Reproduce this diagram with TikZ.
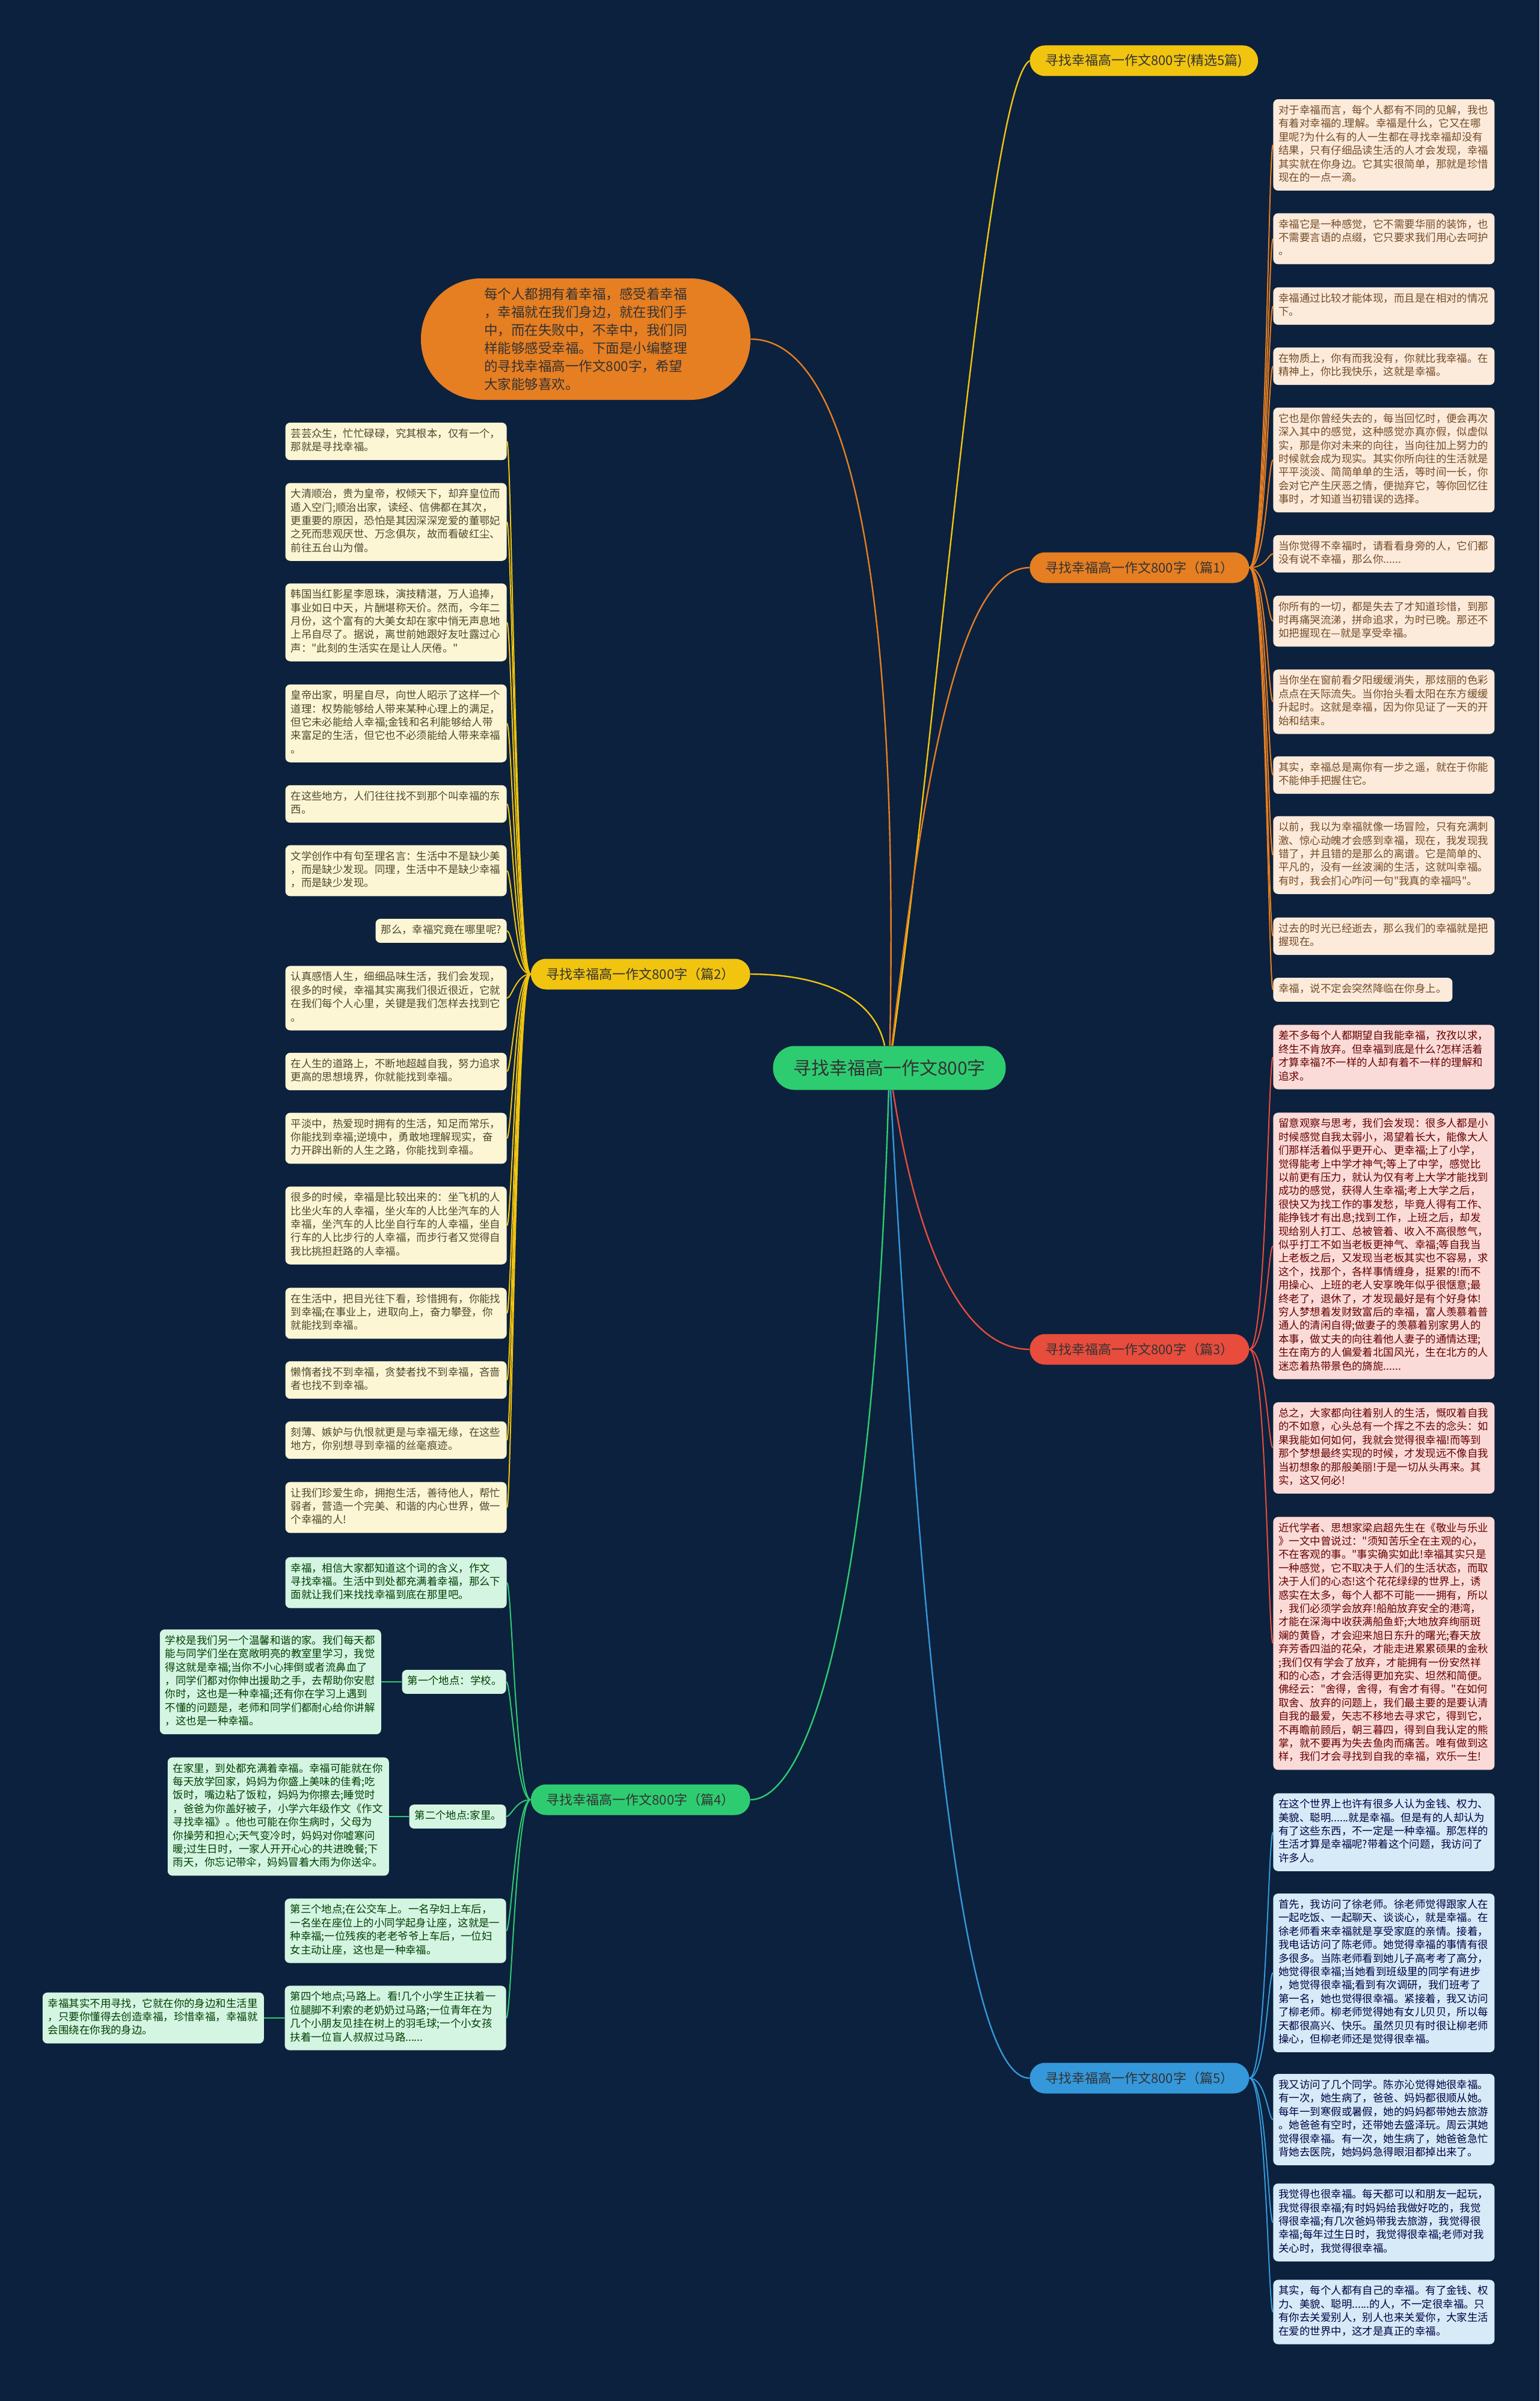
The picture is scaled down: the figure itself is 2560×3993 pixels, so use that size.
\documentclass[tikz,border=0pt]{standalone}
\usepackage{fontspec}
\newfontfamily\cjk{Noto Sans CJK SC}
\usetikzlibrary{positioning, backgrounds}

\definecolor{bgnavy}{HTML}{0C213D}
\definecolor{ink}{HTML}{333333}
\definecolor{gold}{HTML}{F1C40F}
\definecolor{tangerine}{HTML}{E67E22}
\definecolor{coral}{HTML}{E74C3C}
\definecolor{mint}{HTML}{2ECC71}
\definecolor{sky}{HTML}{3498DB}
\definecolor{paleorange}{HTML}{FCEADB}
\definecolor{paleyellow}{HTML}{FDF6D5}
\definecolor{palered}{HTML}{FADBD8}
\definecolor{palegreen}{HTML}{D5F5E3}
\definecolor{paleblue}{HTML}{D6EAF8}

\begin{document}
\begin{tikzpicture}[
    x=0.5pt, y=-0.5pt,
    root/.style={
        rectangle, rounded corners=18pt,
        fill=mint, text=ink,
        minimum width=193.5pt,
        minimum height=36.5pt,
        font=\cjk\fontsize{15}{18}\selectfont
    },
    topic/.style={
        rectangle, rounded corners=12.75pt,
        fill=#1, text=ink,
        minimum height=25.5pt, inner xsep=13pt,
        font=\cjk\fontsize{11}{13}\selectfont
    },
    bubble/.style={
        rectangle, rounded corners=50pt,
        fill=tangerine, text=black!80,
        minimum width=274pt, minimum height=101pt,
        align=left,
        font=\cjk\fontsize{11.25}{15}\selectfont
    },
    leaf/.style={
        rectangle, rounded corners=4pt,
        text width=175pt, align=left,
        inner xsep=4.5pt, inner ysep=4.375pt,
        font=\cjk\fontsize{8.72}{11.2}\selectfont,
        execute at begin node=\strut,
        execute at end node=\strut
    },
    orangeleaf/.style={leaf, fill=paleorange, text=brown!60!black},
    yellowleaf/.style={leaf, fill=paleyellow, text=olive!40!black},
    redleaf/.style={leaf, fill=palered, text=red!40!black},
    greenleaf/.style={leaf, fill=palegreen, text=green!25!black},
    blueleaf/.style={leaf, fill=paleblue, text=blue!25!black},
    link/.style={draw=#1, line width=1.2pt},
    twig/.style={draw=#1, line width=1pt}
]
\useasboundingbox (0,0) rectangle (2560,3993);

% Root and topics
\node[root] (root) at (1479,1776) {寻找幸福高一作文800字};

\node[bubble] (intro) at (974,564) {%
每个人都拥有着幸福，感受着幸福\\
，幸福就在我们身边，就在我们手\\
中，而在失败中，不幸中，我们同\\
样能够感受幸福。下面是小编整理\\
的寻找幸福高一作文800字，希望\\
大家能够喜欢。};

\node[topic=gold, anchor=west] (t0) at (1712,101) {寻找幸福高一作文800字(精选5篇)};
\node[topic=tangerine, anchor=west] (p1) at (1712,944) {寻找幸福高一作文800字（篇1）};
\node[topic=gold, anchor=east] (p2) at (1248,1620) {寻找幸福高一作文800字（篇2）};
\node[topic=coral, anchor=west] (p3) at (1712,2244) {寻找幸福高一作文800字（篇3）};
\node[topic=mint, anchor=east] (p4) at (1248,2993) {寻找幸福高一作文800字（篇4）};
\node[topic=sky, anchor=west] (p5) at (1712,3456) {寻找幸福高一作文800字（篇5）};

% Branch 1
\node[orangeleaf, anchor=west] (r1a) at (2117,241) {%
对于幸福而言，每个人都有不同的见解，我也\\
有着对幸福的.理解。幸福是什么，它又在哪\\
里呢?为什么有的人一生都在寻找幸福却没有\\
结果，只有仔细品读生活的人才会发现，幸福\\
其实就在你身边。它其实很简单，那就是珍惜\\
现在的一点一滴。};
\node[orangeleaf, anchor=west] (r1b) at (2117,397) {%
幸福它是一种感觉，它不需要华丽的装饰，也\\
不需要言语的点缀，它只要求我们用心去呵护\\
。};
\node[orangeleaf, anchor=west] (r1c) at (2117,509) {%
幸福通过比较才能体现，而且是在相对的情况\\
下。};
\node[orangeleaf, anchor=west] (r1d) at (2117,609) {%
在物质上，你有而我没有，你就比我幸福。在\\
精神上，你比我快乐，这就是幸福。};
\node[orangeleaf, anchor=west] (r1e) at (2117,765) {%
它也是你曾经失去的，每当回忆时，便会再次\\
深入其中的感觉，这种感觉亦真亦假，似虚似\\
实，那是你对未来的向往，当向往加上努力的\\
时候就会成为现实。其实你所向往的生活就是\\
平平淡淡、简简单单的生活，等时间一长，你\\
会对它产生厌恶之情，便抛弃它，等你回忆往\\
事时，才知道当初错误的选择。};
\node[orangeleaf, anchor=west] (r1f) at (2117,921) {%
当你觉得不幸福时，请看看身旁的人，它们都\\
没有说不幸福，那么你......};
\node[orangeleaf, anchor=west] (r1g) at (2117,1033) {%
你所有的一切，都是失去了才知道珍惜，到那\\
时再痛哭流涕，拼命追求，为时已晚。那还不\\
如把握现在—就是享受幸福。};
\node[orangeleaf, anchor=west] (r1h) at (2117,1167) {%
当你坐在窗前看夕阳缓缓消失，那炫丽的色彩\\
点点在天际流失。当你抬头看太阳在东方缓缓\\
升起时。这就是幸福，因为你见证了一天的开\\
始和结束。};
\node[orangeleaf, anchor=west] (r1i) at (2117,1289) {%
其实，幸福总是离你有一步之遥，就在于你能\\
不能伸手把握住它。};
\node[orangeleaf, anchor=west] (r1j) at (2117,1422) {%
以前，我以为幸福就像一场冒险，只有充满刺\\
激、惊心动魄才会感到幸福，现在，我发现我\\
错了，并且错的是那么的离谱。它是简单的、\\
平凡的，没有一丝波澜的生活，这就叫幸福。\\
有时，我会扪心咋问一句"我真的幸福吗"。};
\node[orangeleaf, anchor=west] (r1k) at (2117,1557) {%
过去的时光已经逝去，那么我们的幸福就是把\\
握现在。};
\node[orangeleaf, anchor=west, text width=140pt] (r1l) at (2117,1646) {幸福，说不定会突然降临在你身上。};

% Branch 3
\node[redleaf, anchor=west] (r3a) at (2117,1758) {%
差不多每个人都期望自我能幸福，孜孜以求，\\
终生不肯放弃。但幸福到底是什么?怎样活着\\
才算幸福?不一样的人却有着不一样的理解和\\
追求。};
\node[redleaf, anchor=west] (r3b) at (2117,2072) {%
留意观察与思考，我们会发现：很多人都是小\\
时候感觉自我太弱小，渴望着长大，能像大人\\
们那样活着似乎更开心、更幸福;上了小学，\\
觉得能考上中学才神气;等上了中学，感觉比\\
以前更有压力，就认为仅有考上大学才能找到\\
成功的感觉，获得人生幸福;考上大学之后，\\
很快又为找工作的事发愁，毕竟人得有工作、\\
能挣钱才有出息;找到工作，上班之后，却发\\
现给别人打工、总被管着、收入不高很憋气，\\
似乎打工不如当老板更神气、幸福;等自我当\\
上老板之后，又发现当老板其实也不容易，求\\
这个，找那个，各样事情缠身，挺累的!而不\\
用操心、上班的老人安享晚年似乎很惬意;最\\
终老了，退休了，才发现最好是有个好身体!\\
穷人梦想着发财致富后的幸福，富人羡慕着普\\
通人的清闲自得;做妻子的羡慕着别家男人的\\
本事，做丈夫的向往着他人妻子的通情达理;\\
生在南方的人偏爱着北国风光，生在北方的人\\
迷恋着热带景色的旖旎......};
\node[redleaf, anchor=west] (r3c) at (2117,2408) {%
总之，大家都向往着别人的生活，慨叹着自我\\
的不如意，心头总有一个挥之不去的念头：如\\
果我能如何如何，我就会觉得很幸福!而等到\\
那个梦想最终实现的时候，才发现远不像自我\\
当初想象的那般美丽!于是一切从头再来。其\\
实，这又何必!};
\node[redleaf, anchor=west] (r3d) at (2117,2733) {%
近代学者、思想家梁启超先生在《敬业与乐业\\
》一文中曾说过："须知苦乐全在主观的心，\\
不在客观的事。"事实确实如此!幸福其实只是\\
一种感觉，它不取决于人们的生活状态，而取\\
决于人们的心态!这个花花绿绿的世界上，诱\\
惑实在太多，每个人都不可能一一拥有，所以\\
，我们必须学会放弃!船舶放弃安全的港湾，\\
才能在深海中收获满船鱼虾;大地放弃绚丽斑\\
斓的黄昏，才会迎来旭日东升的曙光;春天放\\
弃芳香四溢的花朵，才能走进累累硕果的金秋\\
;我们仅有学会了放弃，才能拥有一份安然祥\\
和的心态，才会活得更加充实、坦然和简便。\\
佛经云："舍得，舍得，有舍才有得。"在如何\\
取舍、放弃的问题上，我们最主要的是要认清\\
自我的最爱，矢志不移地去寻求它，得到它，\\
不再瞻前顾后，朝三暮四，得到自我认定的熊\\
掌，就不要再为失去鱼肉而痛苦。唯有做到这\\
样，我们才会寻找到自我的幸福，欢乐一生!};

% Branch 5
\node[blueleaf, anchor=west] (r5a) at (2117,3047) {%
在这个世界上也许有很多人认为金钱、权力、\\
美貌、聪明......就是幸福。但是有的人却认为\\
有了这些东西，不一定是一种幸福。那怎样的\\
生活才算是幸福呢?带着这个问题，我访问了\\
许多人。};
\node[blueleaf, anchor=west] (r5b) at (2117,3281) {%
首先，我访问了徐老师。徐老师觉得跟家人在\\
一起吃饭、一起聊天、谈谈心，就是幸福。在\\
徐老师看来幸福就是享受家庭的亲情。接着，\\
我电话访问了陈老师。她觉得幸福的事情有很\\
多很多。当陈老师看到她儿子高考考了高分，\\
她觉得很幸福;当她看到班级里的同学有进步\\
，她觉得很幸福;看到有次调研，我们班考了\\
第一名，她也觉得很幸福。紧接着，我又访问\\
了柳老师。柳老师觉得她有女儿贝贝，所以每\\
天都很高兴、快乐。虽然贝贝有时很让柳老师\\
操心，但柳老师还是觉得很幸福。};
\node[blueleaf, anchor=west] (r5c) at (2117,3525) {%
我又访问了几个同学。陈亦沁觉得她很幸福。\\
有一次，她生病了，爸爸、妈妈都很顺从她。\\
每年一到寒假或暑假，她的妈妈都带她去旅游\\
。她爸爸有空时，还带她去盛泽玩。周云淇她\\
觉得很幸福。有一次，她生病了，她爸爸急忙\\
背她去医院，她妈妈急得眼泪都掉出来了。};
\node[blueleaf, anchor=west] (r5d) at (2117,3696) {%
我觉得也很幸福。每天都可以和朋友一起玩，\\
我觉得很幸福;有时妈妈给我做好吃的，我觉\\
得很幸福;有几次爸妈带我去旅游，我觉得很\\
幸福;每年过生日时，我觉得很幸福;老师对我\\
关心时，我觉得很幸福。};
\node[blueleaf, anchor=west] (r5e) at (2117,3845) {%
其实，每个人都有自己的幸福。有了金钱、权\\
力、美貌、聪明......的人，不一定很幸福。只\\
有你去关爱别人，别人也来关爱你，大家生活\\
在爱的世界中，这才是真正的幸福。};

% Branch 2
\node[yellowleaf, anchor=east] (l2a) at (843,734) {%
芸芸众生，忙忙碌碌，究其根本，仅有一个，\\
那就是寻找幸福。};
\node[yellowleaf, anchor=east] (l2b) at (843,868) {%
大清顺治，贵为皇帝，权倾天下，却弃皇位而\\
遁入空门;顺治出家，读经、信佛都在其次，\\
更重要的原因，恐怕是其因深深宠爱的董鄂妃\\
之死而悲观厌世、万念俱灰，故而看破红尘、\\
前往五台山为僧。};
\node[yellowleaf, anchor=east] (l2c) at (843,1035) {%
韩国当红影星李恩珠，演技精湛，万人追捧，\\
事业如日中天，片酬堪称天价。然而，今年二\\
月份，这个富有的大美女却在家中悄无声息地\\
上吊自尽了。据说，离世前她跟好友吐露过心\\
声："此刻的生活实在是让人厌倦。"};
\node[yellowleaf, anchor=east] (l2d) at (843,1203) {%
皇帝出家，明星自尽，向世人昭示了这样一个\\
道理：权势能够给人带来某种心理上的满足，\\
但它未必能给人幸福;金钱和名利能够给人带\\
来富足的生活，但它也不必须能给人带来幸福\\
。};
\node[yellowleaf, anchor=east] (l2e) at (843,1337) {%
在这些地方，人们往往找不到那个叫幸福的东\\
西。};
\node[yellowleaf, anchor=east] (l2f) at (843,1448) {%
文学创作中有句至理名言：生活中不是缺少美\\
，而是缺少发现。同理，生活中不是缺少幸福\\
，而是缺少发现。};
\node[yellowleaf, anchor=east, text width=100pt] (l2g) at (843,1548) {那么，幸福究竟在哪里呢?};
\node[yellowleaf, anchor=east] (l2h) at (843,1660) {%
认真感悟人生，细细品味生活，我们会发现，\\
很多的时候，幸福其实离我们很近很近，它就\\
在我们每个人心里，关键是我们怎样去找到它\\
。};
\node[yellowleaf, anchor=east] (l2i) at (843,1782) {%
在人生的道路上，不断地超越自我，努力追求\\
更高的思想境界，你就能找到幸福。};
\node[yellowleaf, anchor=east] (l2j) at (843,1893) {%
平淡中，热爱现时拥有的生活，知足而常乐，\\
你能找到幸福;逆境中，勇敢地理解现实，奋\\
力开辟出新的人生之路，你能找到幸福。};
\node[yellowleaf, anchor=east] (l2k) at (843,2038) {%
很多的时候，幸福是比较出来的：坐飞机的人\\
比坐火车的人幸福，坐火车的人比坐汽车的人\\
幸福，坐汽车的人比坐自行车的人幸福，坐自\\
行车的人比步行的人幸福，而步行者又觉得自\\
我比挑担赶路的人幸福。};
\node[yellowleaf, anchor=east] (l2l) at (843,2184) {%
在生活中，把目光往下看，珍惜拥有，你能找\\
到幸福;在事业上，进取向上，奋力攀登，你\\
就能找到幸福。};
\node[yellowleaf, anchor=east] (l2m) at (843,2295) {%
懒惰者找不到幸福，贪婪者找不到幸福，吝啬\\
者也找不到幸福。};
\node[yellowleaf, anchor=east] (l2n) at (843,2395) {%
刻薄、嫉妒与仇恨就更是与幸福无缘，在这些\\
地方，你别想寻到幸福的丝毫痕迹。};
\node[yellowleaf, anchor=east] (l2o) at (843,2507) {%
让我们珍爱生命，拥抱生活，善待他人，帮忙\\
弱者，营造一个完美、和谐的内心世界，做一\\
个幸福的人!};

% Branch 4
\node[greenleaf, anchor=east] (l4a) at (843,2632) {%
幸福，相信大家都知道这个词的含义，作文\\
寻找幸福。生活中到处都充满着幸福，那么下\\
面就让我们来找找幸福到底在那里吧。};
\node[greenleaf, anchor=east, text width=77.5pt] (s1) at (842,2797) {第一个地点：学校。};
\node[greenleaf, left=17pt of s1] (school) {%
学校是我们另一个温馨和谐的家。我们每天都\\
能与同学们坐在宽敞明亮的教室里学习，我觉\\
得这就是幸福;当你不小心摔倒或者流鼻血了\\
，同学们都对你伸出援助之手，去帮助你安慰\\
你时，这也是一种幸福;还有你在学习上遇到\\
不懂的问题是，老师和同学们都耐心给你讲解\\
，这也是一种幸福。};
\node[greenleaf, anchor=east, text width=71.5pt] (s2) at (842,3021) {第二个地点:家里。};
\node[greenleaf, left=16.5pt of s2] (home) {%
在家里，到处都充满着幸福。幸福可能就在你\\
每天放学回家，妈妈为你盛上美味的佳肴;吃\\
饭时，嘴边粘了饭粒，妈妈为你擦去;睡觉时\\
，爸爸为你盖好被子，小学六年级作文《作文\\
寻找幸福》。他也可能在你生病时，父母为\\
你操劳和担心;天气变冷时，妈妈对你嘘寒问\\
暖;过生日时，一家人开开心心的共进晚餐;下\\
雨天，你忘记带伞，妈妈冒着大雨为你送伞。};
\node[greenleaf, anchor=east] (l4d) at (842,3211) {%
第三个地点;在公交车上。一名孕妇上车后，\\
一名坐在座位上的小同学起身让座，这就是一\\
种幸福;一位残疾的老老爷爷上车后，一位妇\\
女主动让座，这也是一种幸福。};
\node[greenleaf, anchor=east] (l4e) at (842,3356) {%
第四个地点;马路上。看!几个小学生正扶着一\\
位腿脚不利索的老奶奶过马路;一位青年在为\\
几个小朋友见挂在树上的羽毛球;一个小女孩\\
扶着一位盲人叔叔过马路......};
\node[greenleaf, left=17pt of l4e] (l4f) {%
幸福其实不用寻找，它就在你的身边和生活里\\
，只要你懂得去创造幸福，珍惜幸福，幸福就\\
会围绕在你我的身边。};

% Connectors
\begin{scope}[on background layer]
\fill[bgnavy] (0,0) rectangle (2560,3993);

\draw[link=tangerine] (root) .. controls (1495,1000) and (1420,564) .. (intro.east);
\draw[link=gold] (root) .. controls (1560,1200) and (1640,150) .. (t0.west);
\draw[link=tangerine] (root) .. controls (1545,1200) and (1610,944) .. (p1.west);
\draw[link=gold] (root) .. controls (1450,1640) and (1330,1620) .. (p2.east);
\draw[link=coral] (root) .. controls (1530,2100) and (1610,2244) .. (p3.west);
\draw[link=mint] (root) .. controls (1450,2750) and (1330,2993) .. (p4.east);
\draw[link=sky] (root) .. controls (1545,3000) and (1620,3456) .. (p5.west);

\draw[twig=tangerine] (p1.east) .. controls +(28,0) and +(-8,0) .. (r1a.west);
\draw[twig=tangerine] (p1.east) .. controls +(28,0) and +(-8,0) .. (r1b.west);
\draw[twig=tangerine] (p1.east) .. controls +(28,0) and +(-8,0) .. (r1c.west);
\draw[twig=tangerine] (p1.east) .. controls +(28,0) and +(-8,0) .. (r1d.west);
\draw[twig=tangerine] (p1.east) .. controls +(28,0) and +(-8,0) .. (r1e.west);
\draw[twig=tangerine] (p1.east) .. controls +(28,0) and +(-8,0) .. (r1f.west);
\draw[twig=tangerine] (p1.east) .. controls +(28,0) and +(-8,0) .. (r1g.west);
\draw[twig=tangerine] (p1.east) .. controls +(28,0) and +(-8,0) .. (r1h.west);
\draw[twig=tangerine] (p1.east) .. controls +(28,0) and +(-8,0) .. (r1i.west);
\draw[twig=tangerine] (p1.east) .. controls +(28,0) and +(-8,0) .. (r1j.west);
\draw[twig=tangerine] (p1.east) .. controls +(28,0) and +(-8,0) .. (r1k.west);
\draw[twig=tangerine] (p1.east) .. controls +(28,0) and +(-8,0) .. (r1l.west);

\draw[twig=coral] (p3.east) .. controls +(28,0) and +(-8,0) .. (r3a.west);
\draw[twig=coral] (p3.east) .. controls +(28,0) and +(-8,0) .. (r3b.west);
\draw[twig=coral] (p3.east) .. controls +(28,0) and +(-8,0) .. (r3c.west);
\draw[twig=coral] (p3.east) .. controls +(28,0) and +(-8,0) .. (r3d.west);

\draw[twig=sky] (p5.east) .. controls +(28,0) and +(-8,0) .. (r5a.west);
\draw[twig=sky] (p5.east) .. controls +(28,0) and +(-8,0) .. (r5b.west);
\draw[twig=sky] (p5.east) .. controls +(28,0) and +(-8,0) .. (r5c.west);
\draw[twig=sky] (p5.east) .. controls +(28,0) and +(-8,0) .. (r5d.west);
\draw[twig=sky] (p5.east) .. controls +(28,0) and +(-8,0) .. (r5e.west);

\draw[twig=gold] (p2.west) .. controls +(-24,0) and +(8,0) .. (l2a.east);
\draw[twig=gold] (p2.west) .. controls +(-24,0) and +(8,0) .. (l2b.east);
\draw[twig=gold] (p2.west) .. controls +(-24,0) and +(8,0) .. (l2c.east);
\draw[twig=gold] (p2.west) .. controls +(-24,0) and +(8,0) .. (l2d.east);
\draw[twig=gold] (p2.west) .. controls +(-24,0) and +(8,0) .. (l2e.east);
\draw[twig=gold] (p2.west) .. controls +(-24,0) and +(8,0) .. (l2f.east);
\draw[twig=gold] (p2.west) .. controls +(-24,0) and +(8,0) .. (l2g.east);
\draw[twig=gold] (p2.west) .. controls +(-24,0) and +(8,0) .. (l2h.east);
\draw[twig=gold] (p2.west) .. controls +(-24,0) and +(8,0) .. (l2i.east);
\draw[twig=gold] (p2.west) .. controls +(-24,0) and +(8,0) .. (l2j.east);
\draw[twig=gold] (p2.west) .. controls +(-24,0) and +(8,0) .. (l2k.east);
\draw[twig=gold] (p2.west) .. controls +(-24,0) and +(8,0) .. (l2l.east);
\draw[twig=gold] (p2.west) .. controls +(-24,0) and +(8,0) .. (l2m.east);
\draw[twig=gold] (p2.west) .. controls +(-24,0) and +(8,0) .. (l2n.east);
\draw[twig=gold] (p2.west) .. controls +(-24,0) and +(8,0) .. (l2o.east);

\draw[twig=mint] (p4.west) .. controls +(-24,0) and +(8,0) .. (l4a.east);
\draw[twig=mint] (p4.west) .. controls +(-24,0) and +(8,0) .. (s1.east);
\draw[twig=mint] (p4.west) .. controls +(-24,0) and +(8,0) .. (s2.east);
\draw[twig=mint] (p4.west) .. controls +(-24,0) and +(8,0) .. (l4d.east);
\draw[twig=mint] (p4.west) .. controls +(-24,0) and +(8,0) .. (l4e.east);
\draw[twig=mint] (s1) -- (school);
\draw[twig=mint] (s2) -- (home);
\draw[twig=mint] (l4e) -- (l4f);
\end{scope}

\end{tikzpicture}
\end{document}
